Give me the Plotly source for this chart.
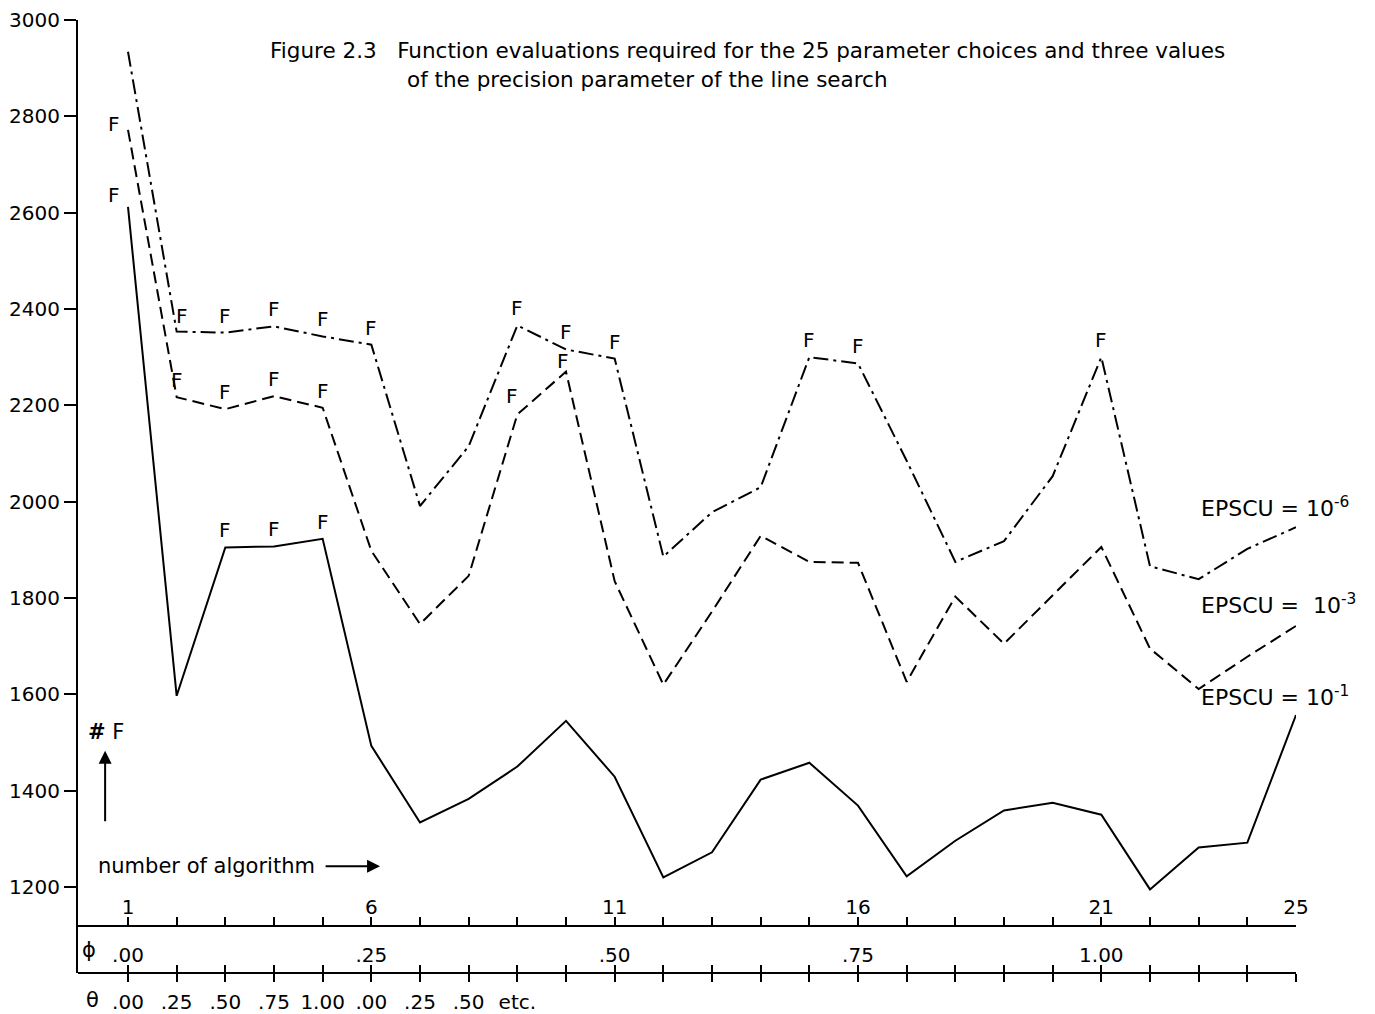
import plotly.graph_objects as go

# ---------------- data ----------------
algorithms = list(range(1, 26))
evals_eps1 = [2612, 1597, 1905, 1907, 1923, 1493, 1334, 1383, 1450, 1545, 1429, 1220, 1272,
              1423, 1458, 1369, 1222, 1296, 1359, 1375, 1350, 1195, 1282, 1292, 1557]
evals_eps3 = [2772, 2217, 2192, 2219, 2195, 1898, 1746, 1846, 2181, 2270, 1835, 1620, 1772,
              1929, 1875, 1873, 1626, 1803, 1705, 1806, 1906, 1695, 1611, 1678, 1742]
evals_eps6 = [2934, 2353, 2351, 2364, 2343, 2326, 1991, 2115, 2366, 2316, 2297, 1886, 1978,
              2030, 2300, 2287, 2085, 1875, 1918, 2053, 2300, 1866, 1839, 1902, 1947]

failed_eps1 = [1, 3, 4, 5]
failed_eps3 = [1, 2, 3, 4, 5, 9, 10]
failed_eps6 = [2, 3, 4, 5, 6, 9, 10, 11, 15, 16, 21]

y_ticks = [1200, 1400, 1600, 1800, 2000, 2200, 2400, 2600, 2800, 3000]
alg_tick_labels = {1: "1", 6: "6", 11: "11", 16: "16", 21: "21", 25: "25"}
phi_tick_labels = {1: ".00", 6: ".25", 11: ".50", 16: ".75", 21: "1.00"}
theta_tick_labels = {1: ".00", 2: ".25", 3: ".50", 4: ".75", 5: "1.00", 6: ".00",
                     7: ".25", 8: ".50", 9: "etc."}
series_labels = ["EPSCU = 10<sup>-6</sup>", "EPSCU =  10<sup>-3</sup>", "EPSCU = 10<sup>-1</sup>"]
title_line1 = "Figure 2.3   Function evaluations required for the 25 parameter choices and three values"
title_line2 = "of the precision parameter of the line search"

# ---------------- layout constants ----------------
FONT = "DejaVu Sans"
W, H = 1375, 1014
ML, MR, MT, MB = 78, 79, 20, 41
plot_h = H - MT - MB
plot_w = W - ML - MR
px_per_unit = (887 - 20) / (3000 - 1200)
y_top = 3000
y_bot = y_top - plot_h / px_per_unit
band_frac = 47 / plot_h
x_left = 1 - 50 / 48.67
x_right = 25

fig = go.Figure()

fig.add_trace(go.Scatter(x=algorithms, y=evals_eps6, mode="lines",
                         line=dict(color="black", width=2, dash="15px,5px,3px,5px"),
                         hoverinfo="skip"))
fig.add_trace(go.Scatter(x=algorithms, y=evals_eps3, mode="lines",
                         line=dict(color="black", width=2, dash="12px,6px"),
                         hoverinfo="skip"))
fig.add_trace(go.Scatter(x=algorithms, y=evals_eps1, mode="lines",
                         line=dict(color="black", width=2), hoverinfo="skip"))

# "F" marks (failures) placed over the points of each series
f_font = dict(family=FONT, size=20, color="black")
f_offsets = {("eps3", 1): (-14, 6), ("eps1", 1): (-14, 12), ("eps3", 10): (-3, 11),
             ("eps6", 2): (5, 16), ("eps3", 9): (-5, 18)}
for name, failed, values in [("eps6", failed_eps6, evals_eps6),
                             ("eps3", failed_eps3, evals_eps3),
                             ("eps1", failed_eps1, evals_eps1)]:
    for i in failed:
        dx, dy = f_offsets.get((name, i), (0, 17))
        fig.add_annotation(x=algorithms[i - 1], y=values[i - 1], xref="x", yref="y",
                           text="F", showarrow=False, xanchor="center", yanchor="middle",
                           xshift=dx, yshift=dy, font=f_font)

# invisible helper traces so the extra x axes are drawn
fig.add_trace(go.Scatter(x=algorithms, y=[None] * len(algorithms), xaxis="x2",
                         mode="lines", hoverinfo="skip"))
fig.add_trace(go.Scatter(x=algorithms, y=[None] * len(algorithms), xaxis="x3",
                         mode="lines", hoverinfo="skip"))

axis_common = dict(range=[x_left, x_right], showgrid=False, zeroline=False, automargin=False,
                   tickvals=algorithms, tickcolor="black", tickwidth=2, ticklen=8,
                   tickfont=dict(family=FONT, size=20, color="black"))

fig.update_layout(
    template="none",
    width=W, height=H,
    margin=dict(l=ML, r=MR, t=MT, b=MB, autoexpand=False),
    plot_bgcolor="white", paper_bgcolor="white",
    showlegend=False,
    font=dict(family=FONT, color="black"),
    xaxis=dict(**axis_common, anchor="free", position=band_frac,
               ticks="inside", ticklabelposition="inside", ticklabeloverflow="allow",
               ticktext=[alg_tick_labels.get(n, "") for n in algorithms],
               showline=True, linecolor="black", linewidth=2),
    xaxis2=dict(**axis_common, anchor="free", position=0, overlaying="x", matches="x",
                ticks="outside", ticklabeloverflow="allow", ticklabelstandoff=3,
                ticktext=[theta_tick_labels.get(n, "") for n in algorithms],
                showline=True, linecolor="black", linewidth=2),
    xaxis3=dict(**axis_common, anchor="free", position=0, overlaying="x", matches="x",
                ticks="inside", ticklabelposition="inside", ticklabeloverflow="allow",
                ticktext=[phi_tick_labels.get(n, "") for n in algorithms],
                showline=False),
    yaxis=dict(range=[y_bot, y_top], tickvals=y_ticks, ticks="outside", ticklen=12,
               tickwidth=2, tickcolor="black", showline=True, linecolor="black",
               linewidth=2, showgrid=False, zeroline=False, automargin=False,
               tickfont=dict(family=FONT, size=20, color="black")),
)

ann_font = dict(family=FONT, size=21, color="black")
# series labels (right side)
for label, yv in zip(series_labels, [1989, 1788, 1597]):
    fig.add_annotation(x=23.0, y=yv, xref="x", yref="y", text=label, showarrow=False,
                       xanchor="left", yanchor="middle",
                       font=dict(family=FONT, size=22, color="black"))

# title
title_font = dict(family=FONT, size=21.5, color="black")
fig.add_annotation(x=(268 - ML) / plot_w, y=1 - 30 / plot_h, xref="paper", yref="paper",
                   text=title_line1, showarrow=False, xanchor="left", yanchor="middle",
                   font=title_font)
fig.add_annotation(x=(405 - ML) / plot_w, y=1 - 60 / plot_h, xref="paper", yref="paper",
                   text=title_line2, showarrow=False, xanchor="left", yanchor="middle",
                   font=title_font)

# "# F" with up arrow
fig.add_annotation(x=0.54, y=1522, xref="x", yref="y", text="<b>#</b> F", showarrow=False,
                   xanchor="center", yanchor="middle", font=ann_font)
fig.add_annotation(x=0.53, y=1483, xref="x", yref="y", text="", showarrow=True,
                   ax=0, ay=72, arrowhead=2, arrowsize=1.3, arrowwidth=2, arrowcolor="black")
# "number of algorithm" with right arrow
fig.add_annotation(x=0.35, y=1243, xref="x", yref="y", text="number of algorithm",
                   showarrow=False, xanchor="left", yanchor="middle", font=ann_font)
fig.add_annotation(x=6.18, y=1243, xref="x", yref="y", text="", showarrow=True,
                   ax=-56, ay=0, arrowhead=2, arrowsize=1.3, arrowwidth=2, arrowcolor="black")

# phi / theta symbols
fig.add_annotation(x=0.2, y=(band_frac / 2), xref="x", yref="paper", text="ϕ",
                   showarrow=False, xanchor="center", yanchor="middle", font=ann_font)
fig.add_annotation(x=0.28, y=-27 / plot_h, xref="x", yref="paper", text="θ",
                   showarrow=False, xanchor="center", yanchor="middle", font=ann_font)

fig.write_html("out.html", config={"displayModeBar": False},
               post_script="document.body.style.margin='0';")
